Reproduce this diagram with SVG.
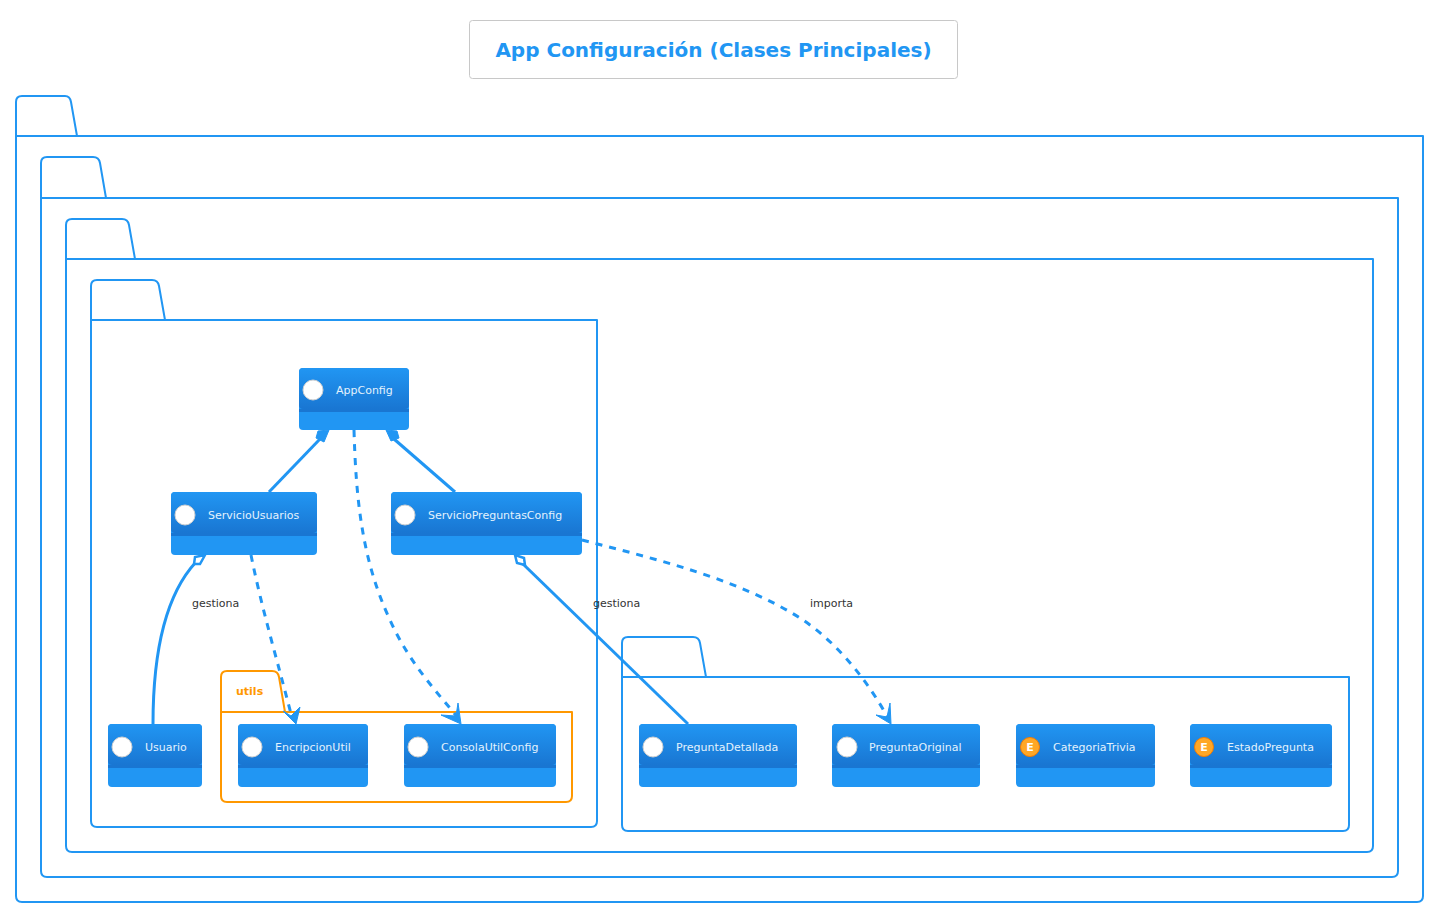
<svg xmlns="http://www.w3.org/2000/svg" width="1435" height="914" viewBox="0 0 1435 914">
<style>
text{font-family:"DejaVu Sans",sans-serif}
.pkg{fill:none;stroke:#2196F3;stroke-width:2;stroke-linejoin:round}
.pkg.o{stroke:#FF9800}
.lbl{font-size:11px;fill:#333333}
.cn{font-size:11px;fill:#E3F2FD}
.body{fill:#2196F3}
.sep{fill:#1976D2}
.ci{fill:#ffffff;stroke:#d0d0d0;stroke-width:1}
.ce{fill:#FFA726;stroke:#F57C00;stroke-width:1}
.el{font-size:11px;font-weight:bold;fill:#ffffff;text-anchor:middle}
.con{fill:none;stroke:#2196F3;stroke-width:3}
.dash{stroke-dasharray:7 7}
.head{fill:#2196F3;stroke:#2196F3;stroke-width:1}
.open{fill:#ffffff;stroke:#2196F3;stroke-width:2.5}
</style>
<defs>
<linearGradient id="hd" x1="0" y1="0" x2="0" y2="1"><stop offset="0" stop-color="#2196F3"/><stop offset="1" stop-color="#1976D2"/></linearGradient>
</defs>
<g id="title">
<rect x="469.500" y="20.500" width="488" height="58" rx="3" fill="#ffffff" stroke="#c8c8c8"/>
<text x="713.500" y="57" text-anchor="middle" font-size="20" font-weight="bold" fill="#2196F3">App Configuración (Clases Principales)</text>
</g>
<g id="packages">
<path class="pkg" d="M16 136V102Q16 96 22 96H65Q70 96 71 102L77 136M16 136H1423V896Q1423 902 1417 902H22Q16 902 16 896Z"/>
<path class="pkg" d="M41 198V163Q41 157 47 157H93Q99 157 100 163L106 198M41 198H1398V871Q1398 877 1392 877H47Q41 877 41 871Z"/>
<path class="pkg" d="M66 259V225Q66 219 72 219H122Q128 219 129 225L135 259M66 259H1373V846Q1373 852 1367 852H72Q66 852 66 846Z"/>
<path class="pkg" d="M91 320V286Q91 280 97 280H152Q158 280 159 286L165 320M91 320H597V821Q597 827 591 827H97Q91 827 91 821Z"/>
<path class="pkg" d="M622 677V643Q622 637 628 637H693Q699 637 700 643L706 677M622 677H1349V825Q1349 831 1343 831H628Q622 831 622 825Z"/>
<path class="pkg o" d="M221 712V677Q221 671 227 671H272Q278 671 279 677L285 712M221 712H572V796Q572 802 566 802H227Q221 802 221 796Z"/>
<text x="236" y="695" font-size="11" font-weight="bold" fill="#FF9800">utils</text>
</g>
<g id="AppConfig">
<rect class="body" x="299" y="368" width="110" height="62" rx="4"/><rect x="299" y="368" width="110" height="41" rx="4" fill="url(#hd)"/><rect class="sep" x="299" y="409" width="110" height="3"/>
<circle class="ci" cx="313" cy="390" r="10"/><text class="cn" x="336" y="394">AppConfig</text>
</g>
<g id="ServicioUsuarios">
<rect class="body" x="171" y="492" width="146" height="63" rx="4"/><rect x="171" y="492" width="146" height="41" rx="4" fill="url(#hd)"/><rect class="sep" x="171" y="533" width="146" height="3"/>
<circle class="ci" cx="185" cy="515" r="10"/><text class="cn" x="208" y="519">ServicioUsuarios</text>
</g>
<g id="ServicioPreguntasConfig">
<rect class="body" x="391" y="492" width="191" height="63" rx="4"/><rect x="391" y="492" width="191" height="41" rx="4" fill="url(#hd)"/><rect class="sep" x="391" y="533" width="191" height="3"/>
<circle class="ci" cx="405" cy="515" r="10"/><text class="cn" x="428" y="519">ServicioPreguntasConfig</text>
</g>
<g id="Usuario">
<rect class="body" x="108" y="724" width="94" height="63" rx="4"/><rect x="108" y="724" width="94" height="41" rx="4" fill="url(#hd)"/><rect class="sep" x="108" y="765" width="94" height="3"/>
<circle class="ci" cx="122" cy="747" r="10"/><text class="cn" x="145" y="751">Usuario</text>
</g>
<g id="EncripcionUtil">
<rect class="body" x="238" y="724" width="130" height="63" rx="4"/><rect x="238" y="724" width="130" height="41" rx="4" fill="url(#hd)"/><rect class="sep" x="238" y="765" width="130" height="3"/>
<circle class="ci" cx="252" cy="747" r="10"/><text class="cn" x="275" y="751">EncripcionUtil</text>
</g>
<g id="ConsolaUtilConfig">
<rect class="body" x="404" y="724" width="152" height="63" rx="4"/><rect x="404" y="724" width="152" height="41" rx="4" fill="url(#hd)"/><rect class="sep" x="404" y="765" width="152" height="3"/>
<circle class="ci" cx="418" cy="747" r="10"/><text class="cn" x="441" y="751">ConsolaUtilConfig</text>
</g>
<g id="PreguntaDetallada">
<rect class="body" x="639" y="724" width="158" height="63" rx="4"/><rect x="639" y="724" width="158" height="41" rx="4" fill="url(#hd)"/><rect class="sep" x="639" y="765" width="158" height="3"/>
<circle class="ci" cx="653" cy="747" r="10"/><text class="cn" x="676" y="751">PreguntaDetallada</text>
</g>
<g id="PreguntaOriginal">
<rect class="body" x="832" y="724" width="148" height="63" rx="4"/><rect x="832" y="724" width="148" height="41" rx="4" fill="url(#hd)"/><rect class="sep" x="832" y="765" width="148" height="3"/>
<circle class="ci" cx="847" cy="747" r="10"/><text class="cn" x="869" y="751">PreguntaOriginal</text>
</g>
<g id="CategoriaTrivia">
<rect class="body" x="1016" y="724" width="139" height="63" rx="4"/><rect x="1016" y="724" width="139" height="41" rx="4" fill="url(#hd)"/><rect class="sep" x="1016" y="765" width="139" height="3"/>
<circle class="ce" cx="1030" cy="747" r="9.500"/><text class="el" x="1030" y="751">E</text><text class="cn" x="1053" y="751">CategoriaTrivia</text>
</g>
<g id="EstadoPregunta">
<rect class="body" x="1190" y="724" width="142" height="63" rx="4"/><rect x="1190" y="724" width="142" height="41" rx="4" fill="url(#hd)"/><rect class="sep" x="1190" y="765" width="142" height="3"/>
<circle class="ce" cx="1204" cy="747" r="9.500"/><text class="el" x="1204" y="751">E</text><text class="cn" x="1227" y="751">EstadoPregunta</text>
</g>
<g id="connectors">
<path class="con" d="M320 439L269 492"/>
<path class="head" d="M329 430L318 431L316 438L324 442Z"/>
<path class="con" d="M394 439L455 492"/>
<path class="head" d="M386 430L397 431L399 438L391 441Z"/>
<path class="con dash" d="M354 430C356 500 362 560 390 620C410 665 440 695 458 718"/>
<path class="head" d="M461 724L441 715L456 716L458 703Z"/>
<path class="con" d="M196 562C170 590 153 640 153 724"/>
<path class="open" d="M205 555L195 557L194 564L200 564Z"/>
<path class="con dash" d="M251 555C262 610 280 670 292 718"/>
<path class="head" d="M296 724L283 711L291 716L300 707Z"/>
<path class="con" d="M523 564L688 724"/>
<path class="open" d="M515 555L517 563L525 565L524 558Z"/>
<path class="con dash" d="M582 540C660 560 740 580 800 618C840 644 870 685 888 718"/>
<path class="head" d="M891 724L876 715L887 717L890 703Z"/>
<text class="lbl" x="192" y="607">gestiona</text>
<text class="lbl" x="593" y="607">gestiona</text>
<text class="lbl" x="810" y="607">importa</text>
</g>
</svg>
